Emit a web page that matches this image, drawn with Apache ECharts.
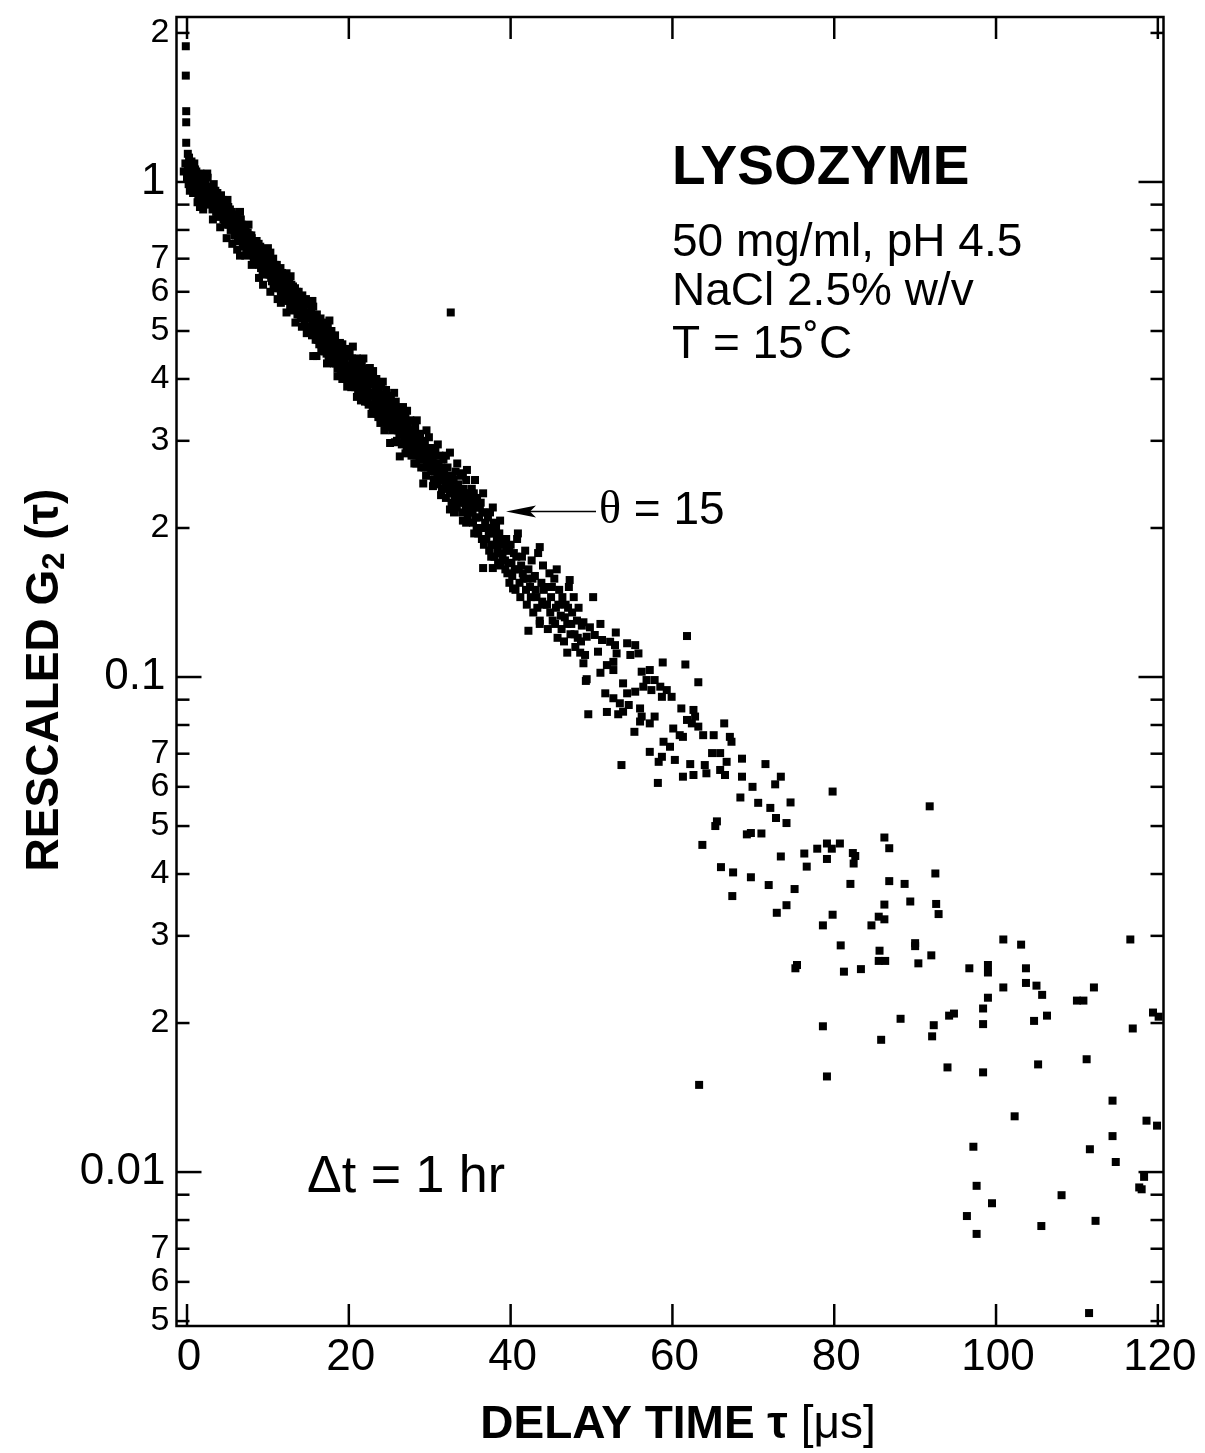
<!DOCTYPE html>
<html><head><meta charset="utf-8">
<script src="https://cdn.jsdelivr.net/npm/echarts@6/dist/echarts.min.js"></script>
<style>html,body{margin:0;padding:0;background:#fff}#c{width:1205px;height:1453px}</style>
</head><body><div id="c"></div>
<script>
// ---------------- DATA ----------------
// delay time tau [us], rescaled G2(tau)
const spikePoints = [[-0.15,1.88],[-0.15,1.64],[-0.1,1.39],[-0.1,1.32],[-0.1,1.20],[0.1,1.14],[-0.2,1.09],[-0.4,1.05],[0.0,1.02]];

const band0to10 = [[0.1,1.08],[0.2,0.99],[0.3,1.05],[0.35,0.96],[0.45,0.97],[0.55,1.10],[0.7,1.01],[0.75,0.95],[0.85,0.95],[0.9,1.09],[1.0,1.06],[1.1,0.98],[1.25,1.03],[1.3,0.91],[1.4,0.94],[1.5,1.00],[1.6,0.89],[1.65,1.04],[1.8,0.96],[1.95,1.01],[2.0,0.88],[2.1,0.93],[2.25,0.99],[2.4,0.95],[2.55,1.02],[2.7,0.91],[2.85,0.97],[3.0,0.94],[3.15,0.88],[3.3,0.99],[3.45,0.92],[3.6,0.87],[3.75,0.95],[3.9,0.90],[4.05,0.85],[4.1,0.81],[4.2,0.94],[4.35,0.88],[4.5,0.84],[4.65,0.91],[4.8,0.87],[4.9,0.77],[4.95,0.83],[5.1,0.89],[5.25,0.85],[5.4,0.80],[5.55,0.87],[5.6,0.75],[5.7,0.83],[5.85,0.78],[6.0,0.84],[6.15,0.80],[6.3,0.76],[6.45,0.83],[6.55,0.71],[6.55,0.87],[6.6,0.79],[6.75,0.82],[6.9,0.75],[7.05,0.80],[7.2,0.77],[7.2,0.71],[7.35,0.73],[7.5,0.79],[7.65,0.75],[7.8,0.72],[7.95,0.78],[8.0,0.68],[8.1,0.74],[8.25,0.70],[8.4,0.76],[8.55,0.72],[8.6,0.76],[8.7,0.69],[8.85,0.75],[9.0,0.71],[9.15,0.67],[9.3,0.73],[9.4,0.62],[9.45,0.69],[9.6,0.66],[9.75,0.72],[9.9,0.68]];

const fill0to10 = [[0.05,1.03],[0.25,1.12],[0.4,1.01],[0.6,0.98],[0.65,1.06],[0.8,1.03],[0.95,0.97],[1.15,1.05],[1.2,0.95],[1.35,0.99],[1.55,0.97],[1.7,0.92],[1.75,1.00],[1.9,0.94],[2.05,0.97],[2.15,1.00],[2.3,0.91],[2.45,0.98],[2.6,0.94],[2.75,0.97],[2.9,0.90],[3.05,0.96],[3.2,0.92],[3.35,0.89],[3.5,0.96],[3.65,0.91],[3.8,0.86],[3.95,0.93],[4.1,0.89],[4.25,0.86],[4.4,0.92],[4.55,0.88],[4.7,0.82],[4.85,0.90],[5.0,0.86],[5.15,0.82],[5.3,0.88],[5.45,0.84],[5.6,0.81],[5.75,0.86],[5.9,0.82],[6.05,0.78],[6.2,0.85],[6.35,0.81],[6.5,0.78],[6.65,0.84],[6.8,0.78],[6.95,0.81],[7.1,0.74],[7.25,0.80],[7.4,0.76],[7.55,0.72],[7.7,0.78],[7.85,0.745],[8.0,0.77],[8.15,0.71],[8.3,0.74],[8.45,0.73],[8.6,0.70],[8.75,0.72],[8.9,0.68],[9.05,0.74],[9.2,0.70],[9.35,0.66],[9.5,0.71],[9.65,0.69],[9.8,0.65],[9.95,0.71]];

const band10to20 = [[10.05,0.71],[10.2,0.65],[10.3,0.60],[10.3,0.72],[10.35,0.69],[10.5,0.63],[10.65,0.70],[10.8,0.66],[10.95,0.62],[11.1,0.68],[11.2,0.58],[11.25,0.64],[11.4,0.61],[11.55,0.67],[11.7,0.63],[11.85,0.59],[12.0,0.65],[12.15,0.61],[12.3,0.58],[12.3,0.545],[12.3,0.654],[12.45,0.64],[12.6,0.60],[12.75,0.56],[12.9,0.62],[13.05,0.59],[13.2,0.55],[13.35,0.61],[13.4,0.52],[13.5,0.58],[13.65,0.54],[13.8,0.60],[13.95,0.56],[14.1,0.53],[14.25,0.59],[14.4,0.55],[14.55,0.52],[14.7,0.58],[14.8,0.495],[14.85,0.54],[15.0,0.51],[15.15,0.57],[15.3,0.53],[15.45,0.49],[15.6,0.445],[15.6,0.56],[15.75,0.51],[15.9,0.48],[16.0,0.445],[16.05,0.54],[16.2,0.50],[16.35,0.47],[16.4,0.526],[16.5,0.53],[16.65,0.49],[16.8,0.46],[16.95,0.52],[17.1,0.48],[17.25,0.45],[17.3,0.43],[17.4,0.51],[17.55,0.47],[17.7,0.44],[17.85,0.50],[18.0,0.46],[18.0,0.431],[18.15,0.43],[18.3,0.49],[18.45,0.45],[18.6,0.405],[18.6,0.42],[18.75,0.47],[18.9,0.473],[18.9,0.44],[19.05,0.41],[19.2,0.47],[19.35,0.43],[19.5,0.45],[19.65,0.40],[19.8,0.386],[19.8,0.46],[19.95,0.42]];

const fill10to20 = [[10.1,0.67],[10.25,0.70],[10.4,0.64],[10.55,0.67],[10.7,0.62],[10.85,0.68],[11.0,0.645],[11.15,0.61],[11.3,0.66],[11.45,0.63],[11.6,0.60],[11.75,0.655],[11.9,0.62],[12.05,0.59],[12.2,0.64],[12.35,0.61],[12.5,0.575],[12.65,0.63],[12.8,0.595],[12.95,0.57],[13.1,0.615],[13.25,0.585],[13.45,0.56],[13.6,0.60],[13.75,0.57],[13.9,0.54],[14.05,0.585],[14.2,0.56],[14.35,0.535],[14.5,0.575],[14.65,0.545],[14.9,0.565],[15.05,0.535],[15.2,0.50],[15.35,0.55],[15.5,0.52],[15.7,0.495],[15.85,0.535],[16.0,0.505],[16.15,0.48],[16.3,0.52],[16.45,0.495],[16.6,0.47],[16.75,0.51],[16.9,0.485],[17.05,0.455],[17.2,0.50],[17.35,0.475],[17.5,0.445],[17.65,0.485],[17.8,0.46],[17.95,0.44],[18.1,0.475],[18.25,0.455],[18.4,0.43],[18.55,0.465],[18.7,0.445],[18.85,0.42],[19.0,0.455],[19.15,0.435],[19.3,0.41],[19.45,0.44],[19.6,0.42],[19.75,0.405],[19.9,0.445]];

const edges0to20 = [[2.5,1.04],[5.0,0.92],[7.6,0.82],[10.0,0.735],[12.8,0.645],[15.5,0.575],[17.6,0.525],[3.2,0.84],[6.2,0.73],[8.9,0.64],[11.6,0.57],[14.2,0.51],[16.6,0.455],[19.2,0.40]];

const band20to30 = [[20.1,0.45],[20.25,0.41],[20.4,0.44],[20.55,0.39],[20.7,0.43],[20.85,0.40],[21.0,0.44],[21.0,0.368],[21.15,0.38],[21.3,0.42],[21.45,0.39],[21.6,0.43],[21.75,0.37],[21.9,0.41],[22.05,0.38],[22.2,0.42],[22.35,0.36],[22.5,0.40],[22.6,0.421],[22.65,0.37],[22.8,0.41],[22.95,0.35],[23.1,0.39],[23.25,0.36],[23.4,0.40],[23.55,0.34],[23.7,0.38],[23.85,0.35],[23.9,0.326],[24.0,0.39],[24.15,0.33],[24.3,0.37],[24.45,0.34],[24.6,0.38],[24.75,0.32],[24.9,0.36],[25.05,0.33],[25.1,0.297],[25.2,0.37],[25.35,0.315],[25.5,0.35],[25.65,0.32],[25.8,0.36],[25.95,0.30],[26.1,0.34],[26.25,0.31],[26.3,0.279],[26.4,0.35],[26.55,0.295],[26.7,0.351],[26.85,0.305],[27.0,0.34],[27.15,0.29],[27.3,0.32],[27.45,0.30],[27.6,0.33],[27.75,0.28],[27.9,0.31],[28.05,0.29],[28.2,0.32],[28.35,0.27],[28.5,0.30],[28.65,0.28],[28.8,0.31],[28.95,0.265],[29.1,0.29],[29.2,0.246],[29.25,0.275],[29.4,0.30],[29.55,0.255],[29.6,0.315],[29.7,0.28],[29.85,0.265]];

const fill20to36 = [[20.2,0.425],[20.35,0.40],[20.5,0.42],[20.65,0.41],[20.8,0.385],[20.95,0.415],[21.1,0.40],[21.25,0.375],[21.4,0.41],[21.55,0.395],[21.7,0.40],[21.85,0.385],[22.0,0.36],[22.15,0.395],[22.3,0.38],[22.45,0.355],[22.6,0.39],[22.75,0.39],[22.9,0.375],[23.05,0.345],[23.2,0.375],[23.35,0.385],[23.5,0.365],[23.65,0.335],[23.8,0.37],[23.95,0.355],[24.1,0.36],[24.25,0.345],[24.4,0.36],[24.55,0.35],[24.7,0.335],[24.85,0.345],[25.0,0.355],[25.15,0.34],[25.3,0.33],[25.45,0.34],[25.6,0.345],[25.75,0.335],[25.9,0.32],[26.05,0.315],[26.2,0.33],[26.35,0.32],[26.5,0.31],[26.65,0.32],[26.8,0.33],[26.95,0.31],[27.1,0.30],[27.25,0.31],[27.4,0.315],[27.55,0.295],[27.7,0.305],[27.85,0.29],[28.0,0.305],[28.15,0.30],[28.3,0.285],[28.45,0.29],[28.6,0.295],[28.75,0.275],[28.9,0.285],[29.05,0.28],[29.2,0.29],[29.35,0.265],[29.5,0.28],[29.65,0.27],[29.8,0.29],[29.95,0.275],[30.1,0.265],[30.3,0.275],[30.45,0.27],[30.6,0.26],[30.8,0.265],[30.95,0.255],[31.1,0.27],[31.3,0.25],[31.45,0.265],[31.6,0.255],[31.8,0.26],[31.95,0.245],[32.1,0.25],[32.3,0.255],[32.45,0.235],[32.6,0.245],[32.8,0.24],[32.95,0.25],[33.1,0.23],[33.3,0.24],[33.45,0.235],[33.6,0.225],[33.8,0.24],[33.95,0.23],[34.3,0.235],[34.45,0.22],[34.6,0.23],[34.8,0.225],[34.95,0.215],[35.1,0.23],[35.3,0.215],[35.45,0.235],[35.6,0.22],[35.8,0.2]];

const edges20to36 = [[20.5,0.465],[21.8,0.44],[23.0,0.415],[24.2,0.395],[25.6,0.375],[27.2,0.345],[28.4,0.33],[29.9,0.305],[31.0,0.295],[32.0,0.28],[33.4,0.27],[34.6,0.262],[35.6,0.25],[20.3,0.385],[21.5,0.362],[22.8,0.34],[24.4,0.315],[25.7,0.298],[27.0,0.283],[28.1,0.27],[30.4,0.243],[31.4,0.233],[33.0,0.215],[34.5,0.205],[35.5,0.195]];

const band30to40 = [[30.0,0.29],[30.2,0.26],[30.35,0.28],[30.5,0.25],[30.7,0.29],[30.85,0.27],[31.0,0.245],[31.2,0.28],[31.35,0.26],[31.5,0.24],[31.7,0.275],[31.85,0.25],[32.0,0.23],[32.2,0.265],[32.35,0.24],[32.5,0.284],[32.5,0.218],[32.6,0.545],[32.7,0.225],[32.85,0.255],[33.0,0.235],[33.2,0.26],[33.35,0.22],[33.5,0.245],[33.7,0.23],[33.85,0.255],[34.0,0.215],[34.1,0.258],[34.1,0.207],[34.2,0.24],[34.35,0.225],[34.5,0.25],[34.7,0.21],[34.85,0.235],[35.0,0.22],[35.2,0.24],[35.35,0.205],[35.5,0.225],[35.7,0.21],[35.85,0.23],[36.0,0.195],[36.2,0.22],[36.35,0.20],[36.5,0.215],[36.6,0.235],[36.6,0.166],[36.7,0.185],[36.85,0.205],[37.0,0.19],[37.2,0.21],[37.35,0.18],[37.5,0.20],[37.7,0.185],[37.8,0.22],[37.8,0.166],[37.85,0.195],[38.0,0.175],[38.2,0.20],[38.35,0.18],[38.5,0.19],[38.7,0.207],[38.7,0.168],[38.85,0.185],[39.0,0.175],[39.2,0.19],[39.35,0.165],[39.5,0.18],[39.7,0.17],[39.85,0.155]];

const fill36to49 = [[36.1,0.21],[36.3,0.225],[36.45,0.19],[36.8,0.215],[37.1,0.20],[37.3,0.195],[37.45,0.215],[37.6,0.175],[37.9,0.205],[38.1,0.185],[38.3,0.19],[38.45,0.17],[38.6,0.195],[38.9,0.178],[39.1,0.185],[39.3,0.172],[39.45,0.19],[39.6,0.162],[39.8,0.18],[39.9,0.17],[40.1,0.17],[40.5,0.165],[40.7,0.175],[41.1,0.155],[41.3,0.168],[41.5,0.162],[41.9,0.15],[42.1,0.158],[42.5,0.145],[42.7,0.158],[43.1,0.15],[43.3,0.138],[43.9,0.142],[44.1,0.15],[44.5,0.14],[44.9,0.135],[45.1,0.152],[45.5,0.128],[45.9,0.14],[46.3,0.125],[46.7,0.132],[47.1,0.138],[47.5,0.128],[47.9,0.122],[48.3,0.12],[48.7,0.118]];

const band40to50 = [[40.0,0.185],[40.2,0.16],[40.3,0.151],[40.4,0.178],[40.6,0.15],[40.8,0.19],[40.9,0.195],[41.0,0.165],[41.2,0.145],[41.4,0.175],[41.6,0.158],[41.8,0.18],[42.0,0.14],[42.2,0.165],[42.2,0.124],[42.4,0.152],[42.6,0.172],[42.8,0.135],[43.0,0.16],[43.2,0.145],[43.4,0.178],[43.6,0.13],[43.6,0.183],[43.6,0.128],[43.8,0.155],[44.0,0.168],[44.2,0.14],[44.4,0.152],[44.6,0.125],[44.8,0.162],[45.0,0.145],[45.2,0.13],[45.4,0.158],[45.6,0.138],[45.7,0.165],[45.8,0.12],[46.0,0.15],[46.2,0.133],[46.4,0.145],[46.6,0.118],[46.8,0.14],[47.0,0.128],[47.0,0.112],[47.2,0.152],[47.3,0.157],[47.4,0.122],[47.6,0.135],[47.8,0.145],[48.0,0.115],[48.2,0.13],[48.4,0.138],[48.6,0.112],[48.8,0.127],[49.4,0.099],[50.2,0.145],[51.9,0.085]];

const tail49to76 = [[61.8,0.121],[61.6,0.106],[63.2,0.0976],[58.8,0.107],[53.0,0.123],[49.0,0.129],[49.8,0.126],[51.1,0.128],[49.4,0.1206],[50.4,0.1216],[51.3,0.1188],[52.3,0.1178],[52.9,0.116],[54.4,0.117],[55.4,0.116],[50.8,0.1125],[53.1,0.1116],[54.8,0.1108],[55.8,0.1116],[52.7,0.1073],[51.9,0.1057],[52.7,0.1033],[51.1,0.102],[49.2,0.1108],[49.0,0.1066],[49.3,0.0982],[49.6,0.0841],[53.9,0.0971],[51.7,0.0927],[52.7,0.0906],[54.4,0.0927],[55.4,0.0934],[56.2,0.1025],[57.2,0.1033],[56.8,0.0986],[57.8,0.0986],[57.4,0.0941],[58.5,0.0956],[59.3,0.0941],[58.7,0.0912],[59.9,0.0912],[56.4,0.0956],[53.5,0.0885],[54.6,0.0878],[53.9,0.0851],[53.3,0.0841],[56.0,0.0864],[56.2,0.0832],[56.0,0.0813],[57.2,0.0806],[57.8,0.0832],[55.3,0.0775],[61.1,0.0864],[62.6,0.0858],[62.8,0.0832],[62.4,0.0806],[63.2,0.0794],[61.8,0.0819],[60.1,0.0787],[60.9,0.0763],[61.3,0.0757],[58.9,0.0740],[59.7,0.0723],[57.2,0.0706],[58.7,0.0690],[58.3,0.0674],[60.3,0.0680],[53.7,0.0664],[58.2,0.0611],[61.3,0.0629],[62.6,0.0634],[62.2,0.0667],[64.0,0.0664],[64.2,0.0639],[63.8,0.0763],[65.1,0.0763],[66.4,0.0806],[67.1,0.0757],[67.3,0.0740],[64.9,0.0702],[65.9,0.0702],[66.7,0.0674],[65.9,0.0649],[66.5,0.0634],[68.6,0.0684],[71.5,0.0667],[68.6,0.0629],[69.9,0.0600],[68.4,0.0571],[73.4,0.0629],[72.7,0.0607],[70.6,0.0557],[72.1,0.0544],[74.6,0.0558],[65.5,0.0511],[63.7,0.0458],[65.3,0.0500],[66.0,0.0413],[67.5,0.0403],[69.7,0.0394],[67.4,0.0361],[63.3,0.0150],[69.2,0.0481],[69.7,0.0484]];

const noise70to120 = [[79.8,0.0587],[72.8,0.0519],[74.1,0.0507],[91.8,0.0548],[71.0,0.0483],[86.2,0.0474],[86.8,0.0451],[79.1,0.0461],[80.7,0.0461],[77.9,0.0450],[79.7,0.0450],[76.3,0.0440],[82.3,0.0441],[82.6,0.0435],[73.4,0.0434],[79.1,0.0429],[82.4,0.0420],[76.6,0.0414],[92.5,0.0401],[71.9,0.0380],[75.1,0.0373],[82.0,0.0382],[86.8,0.0387],[88.7,0.0382],[74.1,0.0346],[72.9,0.0334],[86.2,0.0347],[89.4,0.0352],[92.6,0.0348],[92.9,0.0332],[79.8,0.0331],[78.6,0.0315],[85.5,0.0328],[86.2,0.0324],[84.6,0.0315],[80.8,0.0287],[85.6,0.0280],[85.5,0.0267],[86.3,0.0267],[90.0,0.0290],[90.0,0.0286],[92.0,0.0274],[90.4,0.0264],[75.2,0.0258],[75.4,0.0262],[81.2,0.0254],[83.3,0.0257],[78.6,0.0197],[88.2,0.0204],[92.3,0.0198],[94.2,0.0207],[94.8,0.0209],[79.1,0.0156],[85.8,0.0185],
[100.9,0.0295],[103.1,0.0288],[116.6,0.0295],[96.7,0.0258],[99.0,0.0262],[99.0,0.0253],[103.7,0.0258],[100.9,0.0236],[103.7,0.0241],[105.0,0.0238],[105.7,0.0228],[99.0,0.0225],[98.4,0.0214],[112.1,0.0236],[110.0,0.0222],[110.8,0.0222],[92.1,0.0188],[98.4,0.0199],[104.7,0.0202],[106.3,0.0207],[119.4,0.0210],[120.1,0.0206],[116.9,0.0195],[94.0,0.01627],[98.4,0.0159],[105.2,0.0165],[111.2,0.0169],[114.4,0.01394],[102.3,0.01296],[118.6,0.0127],[119.9,0.01241],[114.4,0.01182],[111.6,0.01112],[97.2,0.01125],[114.8,0.01048],[118.3,0.00978],[117.7,0.00931],[118.0,0.00923],[97.6,0.00938],[99.5,0.00865],[108.1,0.00898],[96.4,0.00815],[112.3,0.00797],[105.6,0.00778],[97.6,0.0075],[111.5,0.00519]];

// axes
const X_MIN = -1.3, X_MAX = 120.7;
const Y_MIN = 0.004887, Y_MAX = 2.154;
const xTickValues = [0, 20, 40, 60, 80, 100, 120];
const xTickLabels = ['0', '20', '40', '60', '80', '100', '120'];
const yTickValues = [0.005,0.006,0.007,0.008,0.009,0.01,0.02,0.03,0.04,0.05,0.06,0.07,0.08,0.09,0.1,0.2,0.3,0.4,0.5,0.6,0.7,0.8,0.9,1,2];
const yTickLabels = ['5','6','7','','','0.01','2','3','4','5','6','7','','','0.1','2','3','4','5','6','7','','','1','2'];
const yMajorValues = [0.01, 0.1, 1];

// ---------------- CHART ----------------
const FONT = "'Liberation Sans', Arial, Helvetica, sans-serif";
const SERIF = "'Liberation Serif', 'DejaVu Serif', serif";
const chart = echarts.init(document.getElementById('c'));

const allPoints = [].concat(spikePoints, band0to10, fill0to10, band10to20, fill10to20, edges0to20, band20to30, fill20to36, edges20to36, band30to40, fill36to49, band40to50, tail49to76, noise70to120);

function renderYTick(params, api) {
  const v = api.value(1);
  const i = params.dataIndex;
  const major = yMajorValues.indexOf(yTickValues[i]) >= 0;
  const L = api.coord([X_MIN, v]);
  const R = api.coord([X_MAX, v]);
  const len = major ? 25 : 13;
  const children = [
    {type: 'line', shape: {x1: L[0], y1: L[1], x2: L[0] + len, y2: L[1]}, style: {stroke: '#000', lineWidth: 2.5}},
    {type: 'line', shape: {x1: R[0] - len, y1: R[1], x2: R[0], y2: R[1]}, style: {stroke: '#000', lineWidth: 2.5}}
  ];
  const lab = yTickLabels[i];
  if (lab) {
    children.push({type: 'text', x: L[0] - (major ? 11 : 7), y: L[1],
      style: {text: lab, fill: '#000', fontSize: major ? 44 : 34, fontFamily: FONT, align: 'right', verticalAlign: 'middle'}});
  }
  return {type: 'group', children};
}

function renderXTick(params, api) {
  const t = api.value(0);
  const i = params.dataIndex;
  const B = api.coord([t, Y_MIN]);
  const T = api.coord([t, Y_MAX]);
  return {type: 'group', children: [
    {type: 'line', shape: {x1: B[0], y1: B[1], x2: B[0], y2: B[1] - 22}, style: {stroke: '#000', lineWidth: 2.5}},
    {type: 'line', shape: {x1: T[0], y1: T[1], x2: T[0], y2: T[1] + 22}, style: {stroke: '#000', lineWidth: 2.5}},
    {type: 'text', x: B[0] + 2, y: B[1] + 32,
      style: {text: xTickLabels[i], fill: '#000', fontSize: 44, fontFamily: FONT, align: 'center', verticalAlign: 'middle'}}
  ]};
}

const option = {
  animation: false,
  backgroundColor: '#fff',
  grid: {left: 176.5, top: 17, width: 987, height: 1309, show: true, borderColor: '#000', borderWidth: 2.5, backgroundColor: 'transparent'},
  xAxis: {type: 'value', min: X_MIN, max: X_MAX, axisLine: {show: false}, axisTick: {show: false}, axisLabel: {show: false}, splitLine: {show: false}},
  yAxis: {type: 'log', logBase: 10, min: Y_MIN, max: Y_MAX, axisLine: {show: false}, axisTick: {show: false}, axisLabel: {show: false}, splitLine: {show: false}, minorSplitLine: {show: false}},
  series: [
    {type: 'custom', name: 'yticks', renderItem: renderYTick, clip: false, silent: true,
      data: yTickValues.map(v => [X_MIN, v]), z: 3},
    {type: 'custom', name: 'xticks', renderItem: renderXTick, clip: false, silent: true,
      data: xTickValues.map(t => [t, Y_MIN]), z: 3},
    {type: 'scatter', name: 'G2', data: allPoints, symbol: 'rect', symbolSize: 8,
      itemStyle: {color: '#000', opacity: 1}, silent: true, z: 4}
  ],
  graphic: [
    {type: 'text', x: 672, y: 169, style: {text: 'LYSOZYME', fill: '#000', fontSize: 55, fontWeight: 'bold', fontFamily: FONT, align: 'left', verticalAlign: 'middle'}},
    {type: 'text', x: 672, y: 243, style: {text: '50 mg/ml, pH 4.5', fill: '#000', fontSize: 46, fontFamily: FONT, align: 'left', verticalAlign: 'middle'}},
    {type: 'text', x: 672, y: 292, style: {text: 'NaCl 2.5% w/v', fill: '#000', fontSize: 46, fontFamily: FONT, align: 'left', verticalAlign: 'middle'}},
    {type: 'text', x: 672, y: 345, style: {text: 'T = 15˚C', fill: '#000', fontSize: 46, fontFamily: FONT, align: 'left', verticalAlign: 'middle'}},
    {type: 'line', shape: {x1: 528, y1: 511.5, x2: 596, y2: 511.5}, style: {stroke: '#000', lineWidth: 1.6}},
    {type: 'polygon', shape: {points: [[506, 511.5], [536, 505.5], [530, 511.5], [536, 517.5]]}, style: {fill: '#000'}},
    {type: 'text', x: 599, y: 511, style: {text: '{t|θ}{n| = 15}', align: 'left', verticalAlign: 'middle',
      rich: {t: {fontSize: 46, fontFamily: SERIF, fill: '#000'}, n: {fontSize: 46, fontFamily: FONT, fill: '#000'}}}},
    {type: 'text', x: 307, y: 1178, style: {text: 'Δt = 1 hr', fill: '#000', fontSize: 52, fontFamily: FONT, align: 'left', verticalAlign: 'middle'}},
    {type: 'text', x: 678, y: 1425, style: {text: '{b|DELAY TIME τ}{r| [μs]}', align: 'center', verticalAlign: 'middle',
      rich: {b: {fontSize: 46, fontWeight: 'bold', fontFamily: FONT, fill: '#000'}, r: {fontSize: 46, fontFamily: FONT, fill: '#000'}}}},
    {type: 'text', x: 45, y: 680, rotation: Math.PI / 2, style: {text: '{b|RESCALED G}{s|2}{b| (τ)}', align: 'center', verticalAlign: 'middle',
      rich: {b: {fontSize: 46, fontWeight: 'bold', fontFamily: FONT, fill: '#000', lineHeight: 52},
             s: {fontSize: 31, fontWeight: 'bold', fontFamily: FONT, fill: '#000', lineHeight: 31, verticalAlign: 'bottom'}}}}
  ]
};
chart.setOption(option);
</script>
</body></html>
